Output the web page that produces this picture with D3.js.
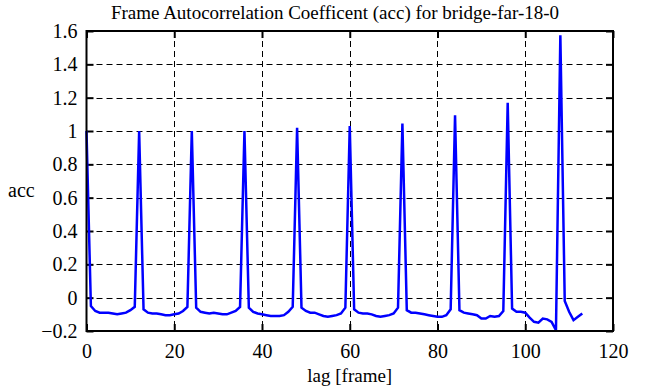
<!DOCTYPE html>
<html>
<head>
<meta charset="utf-8">
<script src="https://cdn.jsdelivr.net/npm/d3@7"></script>
<style>
  html, body { margin: 0; padding: 0; background: #fff; }
  svg text { font-family: "Liberation Serif", "Times New Roman", serif !important; fill: #000; }
</style>
</head>
<body>
<div id="chart"></div>
<script>
// autocorrelation per lag (frames 0..113)
const acc = [
  1.0, -0.05, -0.08, -0.09, -0.09, -0.09, -0.095, -0.1, -0.095, -0.09, -0.075, -0.055,
  1.0, -0.07, -0.09, -0.095, -0.095, -0.1, -0.105, -0.105, -0.1, -0.095, -0.08, -0.055,
  1.0, -0.06, -0.085, -0.09, -0.095, -0.09, -0.095, -0.1, -0.1, -0.09, -0.08, -0.055,
  1.0, -0.06, -0.085, -0.095, -0.1, -0.105, -0.11, -0.11, -0.11, -0.105, -0.085, -0.055,
  1.02, -0.06, -0.08, -0.09, -0.09, -0.1, -0.11, -0.115, -0.11, -0.105, -0.095, -0.06,
  1.03, -0.07, -0.09, -0.095, -0.095, -0.1, -0.11, -0.115, -0.11, -0.105, -0.095, -0.06,
  1.045, -0.075, -0.09, -0.09, -0.095, -0.1, -0.105, -0.11, -0.115, -0.115, -0.105, -0.07,
  1.095, -0.075, -0.09, -0.095, -0.1, -0.105, -0.125, -0.125, -0.11, -0.115, -0.11, -0.08,
  1.17, -0.065, -0.085, -0.085, -0.09, -0.12, -0.145, -0.15, -0.125, -0.13, -0.145, -0.195,
  1.575, -0.02, -0.085, -0.135, -0.115, -0.095
];
const lags = acc.map((_, i) => i);

const xTicks = [0, 20, 40, 60, 80, 100, 120];
const yTicks = [-0.2, 0, 0.2, 0.4, 0.6, 0.8, 1, 1.2, 1.4, 1.6];

const title = "Frame Autocorrelation Coefficent (acc) for bridge-far-18-0";
const xLabel = "lag [frame]";
const yLabel = "acc";

const width = 651, height = 387;
const margin = {left: 86.5, right: 38, top: 31, bottom: 56};
const serif = "'Liberation Serif', 'Times New Roman', serif";

const x = d3.scaleLinear().domain([0, 120]).range([margin.left, width - margin.right]);
const y = d3.scaleLinear().domain([-0.2, 1.6]).range([height - margin.bottom, margin.top]);

const svg = d3.select("#chart").append("svg")
    .attr("width", width)
    .attr("height", height);

// grid
const grid = svg.append("g")
    .attr("stroke", "#000")
    .attr("stroke-width", 1)
    .attr("stroke-dasharray", "6,4");

grid.selectAll("line.v")
    .data(xTicks.slice(1, -1))
    .join("line")
    .attr("class", "v")
    .attr("x1", d => Math.round(x(d)) + 0.5)
    .attr("x2", d => Math.round(x(d)) + 0.5)
    .attr("y1", y(1.6))
    .attr("y2", y(-0.2));

grid.selectAll("line.h")
    .data(yTicks.slice(1, -1))
    .join("line")
    .attr("class", "h")
    .attr("y1", d => Math.round(y(d)) + 0.5)
    .attr("y2", d => Math.round(y(d)) + 0.5)
    .attr("x1", x(0))
    .attr("x2", x(120));

// axes with inward ticks
const fontSize = 20;
const axB = svg.append("g")
    .attr("transform", `translate(0,${y(-0.2)})`)
    .call(d3.axisBottom(x).tickValues(xTicks).tickSize(-7).tickPadding(13).tickFormat(d3.format("d")));
const axT = svg.append("g")
    .attr("transform", `translate(0,${y(1.6)})`)
    .call(d3.axisTop(x).tickValues(xTicks).tickSize(-7).tickFormat(""));
const axL = svg.append("g")
    .attr("transform", `translate(${x(0)},0)`)
    .call(d3.axisLeft(y).tickValues(yTicks).tickSize(-7).tickPadding(9)
        .tickFormat(d => d3.format("")(+d.toFixed(1))));
const axR = svg.append("g")
    .attr("transform", `translate(${x(120)},0)`)
    .call(d3.axisRight(y).tickValues(yTicks).tickSize(-7).tickFormat(""));

for (const ax of [axB, axT, axL, axR]) {
    ax.attr("font-family", serif).attr("font-size", fontSize);
    ax.select(".domain").remove();
    ax.selectAll(".tick line").attr("stroke", "#000").attr("stroke-width", 2);
    ax.selectAll("text")
        .style("font-family", serif)
        .style("font-size", fontSize + "px")
        .attr("fill", "#000");
}

// data line
const line = d3.line()
    .x((d, i) => x(lags[i]))
    .y(d => y(d));

svg.append("path")
    .datum(acc)
    .attr("fill", "none")
    .attr("stroke", "#0000ff")
    .attr("stroke-width", 2.5)
    .attr("d", line);

// frame
svg.append("rect")
    .attr("x", x(0))
    .attr("y", y(1.6))
    .attr("width", x(120) - x(0))
    .attr("height", y(-0.2) - y(1.6))
    .attr("fill", "none")
    .attr("stroke", "#000")
    .attr("stroke-width", 2);

// labels
svg.append("text")
    .attr("x", 335)
    .attr("y", 19)
    .attr("text-anchor", "middle")
    .style("font-size", "19px")
    .text(title);

svg.append("text")
    .attr("x", (x(0) + x(120)) / 2)
    .attr("y", 382)
    .attr("text-anchor", "middle")
    .style("font-size", "19px")
    .text(xLabel);

svg.append("text")
    .attr("x", 8)
    .attr("y", 197)
    .style("font-size", fontSize + "px")
    .text(yLabel);
</script>
</body>
</html>
